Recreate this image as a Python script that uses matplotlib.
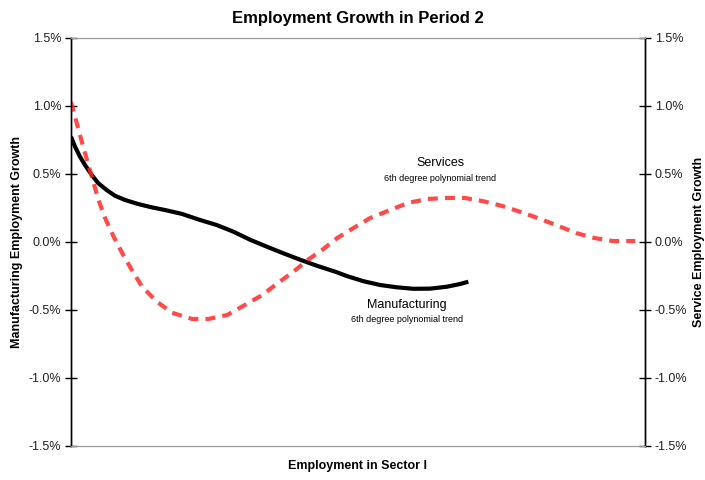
import matplotlib.pyplot as plt
from matplotlib.ticker import FuncFormatter

plt.rcParams['font.family'] = ['Liberation Sans', 'DejaVu Sans']

# x positions in % of the sector-I range (0 = left axis, 100 = right axis)
mfg_x = [0.0, 0.70, 1.57, 2.44, 3.61, 4.76, 6.22, 7.67, 9.41, 11.72, 14.06, 16.38,
         19.29, 22.47, 25.38, 28.28, 31.18, 34.09, 36.99, 39.90, 42.80, 46.29, 48.03,
         50.92, 53.83, 56.74, 59.63, 62.54, 65.45, 67.77, 69.22]
mfg_y = [0.774, 0.701, 0.627, 0.566, 0.493, 0.432, 0.382, 0.340, 0.309, 0.279, 0.255,
         0.235, 0.207, 0.162, 0.125, 0.076, 0.017, -0.034, -0.083, -0.130, -0.174,
         -0.222, -0.250, -0.288, -0.316, -0.333, -0.344, -0.343, -0.329, -0.309, -0.292]

svc_x = [0.0, 1.0, 1.9, 2.8, 3.8, 4.7, 5.9, 7.3, 8.9, 10.6, 12.4, 15.0, 17.6, 21.1,
         23.9, 27.2, 30.3, 33.3, 36.1, 38.7, 41.3, 43.7, 46.4, 49.1, 52.1, 55.6, 58.7,
         62.0, 65.5, 68.6, 71.8, 75.1, 78.4, 81.7, 84.9, 88.0, 91.1, 94.4, 97.4, 98.3]
svc_y = [1.03, 0.875, 0.735, 0.60, 0.456, 0.32, 0.18, 0.05, -0.08, -0.206, -0.33,
         -0.44, -0.52, -0.566, -0.566, -0.537, -0.463, -0.39, -0.30, -0.22, -0.13,
         -0.06, 0.03, 0.10, 0.176, 0.235, 0.287, 0.316, 0.324, 0.324, 0.30, 0.265,
         0.22, 0.17, 0.118, 0.066, 0.03, 0.007, 0.007, 0.007]

yticks = [-1.5, -1.0, -0.5, 0.0, 0.5, 1.0, 1.5]

fig = plt.figure(figsize=(7.05, 4.8), dpi=100)
ax = fig.add_axes([71 / 705, 34 / 480, 574 / 705, 408 / 480])
ax2 = ax.twinx()

ax.plot(mfg_x, mfg_y, color='black', lw=3, solid_capstyle='butt',
        solid_joinstyle='round', zorder=3)
ax2.plot(svc_x, svc_y, color='#ff2a2a', lw=3, alpha=0.85, dashes=(2.4, 1.7),
         solid_capstyle='butt')

pct = FuncFormatter(lambda v, p: '%.1f%%' % v)
for a in (ax, ax2):
    a.set_xlim(0, 100)
    a.set_ylim(-1.5, 1.5)
    a.set_yticks(yticks)
    a.yaxis.set_major_formatter(pct)
    a.tick_params(axis='y', direction='inout', length=8, width=1, labelsize=9, pad=3,
                  labelcolor='#222222')
    a.set_xticks([])
    a.spines['top'].set_color('#999999')
    a.spines['bottom'].set_color('#999999')
    a.spines['left'].set_linewidth(1)
    a.spines['right'].set_linewidth(1)

ax.set_title('Employment Growth in Period 2', fontsize=12, fontweight='bold', pad=11)
ax.set_xlabel('Employment in Sector I', fontsize=9, fontweight='bold', labelpad=10)
ax.set_ylabel('Manufacturing Employment Growth', fontsize=9, fontweight='bold', labelpad=4)
ax2.set_ylabel('Service Employment Growth', fontsize=9, fontweight='bold', labelpad=4)

ax.text(64.3, 0.58, 'Services', ha='center', va='center', fontsize=9)
ax.text(64.3, 0.47, '6th degree polynomial trend', ha='center', va='center', fontsize=6.5)
ax.text(58.5, -0.46, 'Manufacturing', ha='center', va='center', fontsize=9)
ax.text(58.5, -0.57, '6th degree polynomial trend', ha='center', va='center', fontsize=6.5)

fig.savefig('out.png', dpi=100)
